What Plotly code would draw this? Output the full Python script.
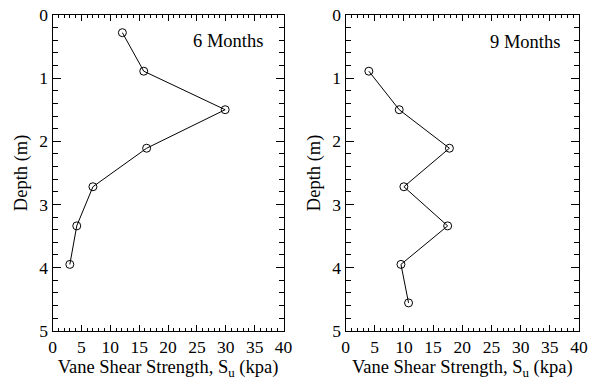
import plotly.graph_objects as go

depth_6 = [0.28, 0.89, 1.50, 2.11, 2.72, 3.34, 3.95]
su_6 = [12.1, 15.8, 29.9, 16.3, 7.0, 4.2, 3.0]

depth_9 = [0.89, 1.50, 2.11, 2.72, 3.34, 3.95, 4.56]
su_9 = [4.0, 9.2, 17.8, 10.0, 17.5, 9.5, 10.8]

x_ticks = [0, 5, 10, 15, 20, 25, 30, 35, 40]
y_ticks = [0, 1, 2, 3, 4, 5]

FONT = "Liberation Serif, Times New Roman, Times, serif"

W, H = 600, 383
fx = lambda p: p / W
fy = lambda p: 1 - p / H

fig = go.Figure()
fig.add_trace(go.Scatter(x=su_6, y=depth_6, mode="lines+markers",
                         line=dict(color="black", width=1),
                         marker=dict(symbol="circle-open", size=8, color="black", line=dict(width=1)),
                         xaxis="x", yaxis="y", showlegend=False))
fig.add_trace(go.Scatter(x=su_9, y=depth_9, mode="lines+markers",
                         line=dict(color="black", width=1),
                         marker=dict(symbol="circle-open", size=8, color="black", line=dict(width=1)),
                         xaxis="x2", yaxis="y2", showlegend=False))

def xax(domain, anchor):
    return dict(domain=domain, anchor=anchor, range=[0, 40], tickvals=x_ticks,
                ticks="inside", ticklen=6, tickcolor="black", tickwidth=1,
                minor=dict(ticks="inside", dtick=1, ticklen=3, tickcolor="black", tickwidth=1),
                showline=True, linecolor="black", linewidth=1, mirror="ticks",
                showgrid=False, zeroline=False, automargin=False, ticklabeloverflow="allow",
                tickfont=dict(family=FONT, size=17.5, color="black"),
                title=dict(text="Vane Shear Strength, S<sub>u</sub> (kpa)",
                           font=dict(family=FONT, size=18.5, color="black"), standoff=2))

def yax(domain, anchor):
    return dict(domain=domain, anchor=anchor, range=[5, 0], tickvals=y_ticks,
                ticks="inside", ticklen=8, tickcolor="black", tickwidth=1,
                minor=dict(ticks="inside", dtick=0.2, ticklen=5, tickcolor="black", tickwidth=1),
                showline=True, linecolor="black", linewidth=1, mirror="ticks",
                showgrid=False, zeroline=False, automargin=False, ticklabeloverflow="allow",
                tickfont=dict(family=FONT, size=17.5, color="black"),
                title=dict(text="Depth (m)", font=dict(family=FONT, size=18.5, color="black"), standoff=6))

fig.update_layout(
    width=W, height=H,
    margin=dict(l=0, r=0, t=0, b=0, autoexpand=False),
    paper_bgcolor="white", plot_bgcolor="white",
    font=dict(family=FONT, color="black"),
    xaxis=xax([fx(52.5), fx(283.5)], "y"),
    yaxis=yax([fy(330.7), fy(15)], "x"),
    xaxis2=xax([fx(345.5), fx(579)], "y2"),
    yaxis2=yax([fy(330.7), fy(15)], "x2"),
    annotations=[
        dict(text="6 Months", x=fx(228), y=fy(41), xref="paper", yref="paper", showarrow=False,
             xanchor="center", yanchor="middle", font=dict(family=FONT, size=18.5, color="black")),
        dict(text="9 Months", x=fx(525), y=fy(42), xref="paper", yref="paper", showarrow=False,
             xanchor="center", yanchor="middle", font=dict(family=FONT, size=18.5, color="black")),
    ],
)

fig.write_html("out.html", config={"displayModeBar": False},
               post_script="document.body.style.margin='0';document.body.style.overflow='hidden';")
